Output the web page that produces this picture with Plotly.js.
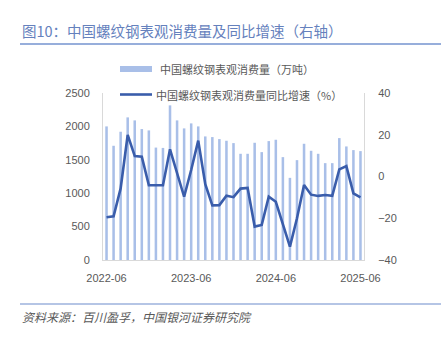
<!DOCTYPE html>
<html>
<head>
<meta charset="utf-8">
<script src="https://cdn.plot.ly/plotly-3.0.1.min.js"></script>
<style>html,body{margin:0;padding:0;background:#fff;}#chart{width:444px;height:344px;}</style>
</head>
<body>
<div id="chart"></div>
<script>
const months = ['2022-06','2022-07','2022-08','2022-09','2022-10','2022-11','2022-12',
  '2023-01','2023-02','2023-03','2023-04','2023-05','2023-06','2023-07','2023-08','2023-09','2023-10','2023-11','2023-12',
  '2024-01','2024-02','2024-03','2024-04','2024-05','2024-06','2024-07','2024-08','2024-09','2024-10','2024-11','2024-12',
  '2025-01','2025-02','2025-03','2025-04','2025-05','2025-06'];
const consumption = [2000,1710,1920,2135,2090,1960,1940,1683,1678,2315,2090,1970,2045,2000,1850,1840,1810,1785,1750,
  1590,1590,1755,1615,1780,1800,1540,1230,1495,1740,1635,1590,1450,1450,1825,1700,1645,1630];
const yoy = [-19.5,-19.1,-5.7,19.9,9.8,9.5,-4.2,-4.1,-4.2,13.0,2.0,-9.7,3.1,17.2,-3.7,-13.8,-13.7,-9.2,-9.9,
  -5.8,-5.5,-24.0,-23.2,-9.7,-12.1,-22.4,-33.6,-20.0,-4.1,-8.7,-9.3,-8.9,-9.3,3.4,5.0,-8.1,-10.0];
const tickLabels = ['2022-06','2023-06','2024-06','2025-06'];
const seriesNames = ['中国螺纹钢表观消费量（万吨）','中国螺纹钢表观消费量同比增速（%）'];
const titleText = '图10：中国螺纹钢表观消费量及同比增速（右轴）';
const sourceText = '资料来源：百川盈孚，中国银河证券研究院';

const L=103, R=80, T=93, B=84, W=444, H=344;
const pw=W-L-R, ph=H-T-B;
const px = X => (X-L)/pw;
const py = Y => (H-B-Y)/ph;

const barColor = '#a9bfe8';
const lineColor = '#3a5dab';
const cjk = '"Noto Sans CJK SC", "Noto Sans", sans-serif';

const traces = [
  {type:'bar', x:months, y:consumption, name:seriesNames[0], marker:{color:barColor}, yaxis:'y', showlegend:false, hoverinfo:'skip'},
  {type:'scatter', mode:'lines', x:months, y:yoy, name:seriesNames[1], line:{color:lineColor, width:2.6}, yaxis:'y2', showlegend:false}
];

const layout = {
  width:W, height:H,
  margin:{l:L, r:R, t:T, b:B, pad:0},
  paper_bgcolor:'#fff', plot_bgcolor:'#fff',
  bargap:0.64,
  font:{family:cjk, size:11, color:'#595959'},
  xaxis:{type:'category', range:[-0.5, months.length-0.5], tickmode:'array', tickvals:tickLabels, ticktext:tickLabels,
    showline:true, linecolor:'#d9d9d9', linewidth:1, ticks:'', showgrid:false, zeroline:false,
    tickfont:{family:'"Liberation Sans", Arial, sans-serif', size:11, color:'#595959'}, ticklabelstandoff:8},
  yaxis:{range:[0,2500], dtick:500, showline:true, linecolor:'#d9d9d9', showgrid:false, zeroline:false, ticks:'',
    tickfont:{family:'"Liberation Sans", Arial, sans-serif', size:11, color:'#595959'}, ticklabelstandoff:10},
  yaxis2:{overlaying:'y', side:'right', range:[-40,40], dtick:20, showline:true, linecolor:'#d9d9d9', showgrid:false, zeroline:false, ticks:'',
    tickfont:{family:'"Liberation Sans", Arial, sans-serif', size:11, color:'#595959'}, ticklabelstandoff:11},
  shapes:[
    {type:'line', xref:'paper', yref:'paper', x0:px(20), x1:px(441), y0:py(44), y1:py(44), line:{color:'#7593cf', width:1.6}},
    {type:'line', xref:'paper', yref:'paper', x0:px(20), x1:px(441), y0:py(304), y1:py(304), line:{color:'#9db2dc', width:1.6}},
    {type:'rect', xref:'paper', yref:'paper', x0:px(120), x1:px(152), y0:py(72), y1:py(66), fillcolor:barColor, line:{width:0}},
    {type:'line', xref:'paper', yref:'paper', x0:px(120), x1:px(152), y0:py(94.5), y1:py(94.5), line:{color:lineColor, width:2.6}}
  ],
  annotations:[
    {text:titleText, xref:'paper', yref:'paper', x:px(20), y:py(30), xanchor:'left', yanchor:'middle', showarrow:false,
      font:{family:cjk, size:14.5, color:'#6581bd'}},
    {text:sourceText, xref:'paper', yref:'paper', x:px(20), y:py(316), xanchor:'left', yanchor:'middle', showarrow:false,
      font:{family:cjk, size:12, color:'#595959', style:'italic'}},
    {text:seriesNames[0], xref:'paper', yref:'paper', x:px(158), y:py(69), xanchor:'left', yanchor:'middle', showarrow:false,
      font:{family:cjk, size:11, color:'#595959'}},
    {text:seriesNames[1], xref:'paper', yref:'paper', x:px(154), y:py(94.5), xanchor:'left', yanchor:'middle', showarrow:false,
      font:{family:cjk, size:11, color:'#595959'}}
  ]
};
Plotly.newPlot('chart', traces, layout, {displayModeBar:false, staticPlot:true});
</script>
</body>
</html>
